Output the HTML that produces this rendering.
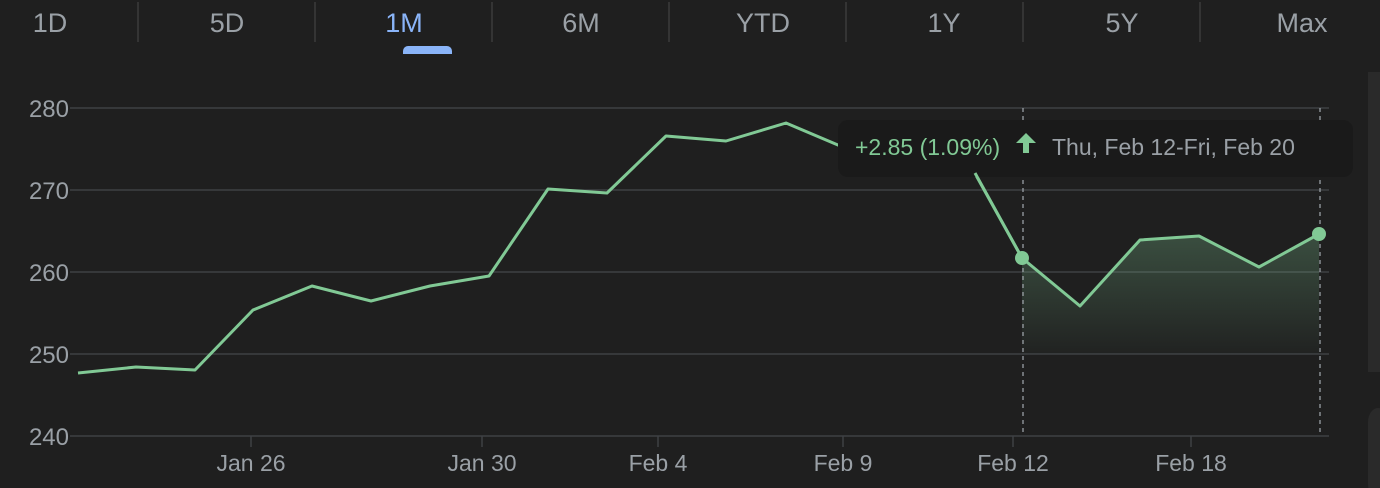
<!DOCTYPE html>
<html><head><style>
html,body{margin:0;padding:0;background:#1f1f1f;width:1380px;height:488px;overflow:hidden}
svg{display:block}
text{font-family:"Liberation Sans",Arial,sans-serif}
</style></head><body>
<svg width="1380" height="488" viewBox="0 0 1380 488">
<rect width="1380" height="488" fill="#1f1f1f"/>
<rect x="1368" y="72" width="14" height="300" fill="#2a2a2a"/>
<rect x="1368" y="408" width="20" height="90" rx="14" fill="#2a2a2a"/>
<g stroke="#3c3c3c" stroke-width="1.5">
<line x1="138" y1="2" x2="138" y2="42"/><line x1="315" y1="2" x2="315" y2="42"/>
<line x1="492" y1="2" x2="492" y2="42"/><line x1="669" y1="2" x2="669" y2="42"/>
<line x1="846" y1="2" x2="846" y2="42"/><line x1="1023" y1="2" x2="1023" y2="42"/>
<line x1="1200" y1="2" x2="1200" y2="42"/>
</g>
<g font-size="27" fill="#9aa0a6" text-anchor="middle">
<text x="50" y="32">1D</text><text x="227" y="32">5D</text>
<text x="404" y="32" fill="#8ab4f8">1M</text><text x="581" y="32">6M</text>
<text x="763" y="32">YTD</text><text x="944" y="32">1Y</text>
<text x="1122" y="32">5Y</text><text x="1302" y="32">Max</text>
</g>
<path d="M403 54 v-3 a5 5 0 0 1 5 -5 h39 a5 5 0 0 1 5 5 v3 z" fill="#8ab4f8"/>
<g stroke="#3f4044" stroke-width="1.5">
<line x1="70" y1="108" x2="1329" y2="108"/><line x1="70" y1="190" x2="1329" y2="190"/>
<line x1="70" y1="272" x2="1329" y2="272"/><line x1="70" y1="354" x2="1329" y2="354"/>
<line x1="70" y1="436" x2="1329" y2="436"/>
</g>
<g font-size="24" fill="#9aa0a6" text-anchor="end">
<text x="69" y="117">280</text><text x="69" y="199">270</text><text x="69" y="281">260</text>
<text x="69" y="363">250</text><text x="69" y="445">240</text>
</g>
<g stroke="#3f4044" stroke-width="1.5">
<line x1="251" y1="436" x2="251" y2="447"/><line x1="482" y1="436" x2="482" y2="447"/>
<line x1="658" y1="436" x2="658" y2="447"/><line x1="843" y1="436" x2="843" y2="447"/>
<line x1="1013" y1="436" x2="1013" y2="447"/><line x1="1191" y1="436" x2="1191" y2="447"/>
</g>
<g font-size="23" fill="#9aa0a6" text-anchor="middle">
<text x="251" y="471">Jan 26</text><text x="482" y="471">Jan 30</text>
<text x="658" y="471">Feb 4</text><text x="843" y="471">Feb 9</text>
<text x="1013" y="471">Feb 12</text><text x="1191" y="471">Feb 18</text>
</g>
<defs><linearGradient id="g" x1="0" y1="0" x2="0" y2="1">
<stop offset="0" stop-color="#81c995" stop-opacity="0.28"/>
<stop offset="1" stop-color="#81c995" stop-opacity="0.02"/></linearGradient></defs>
<path d="M1022 258 L1080 306 L1140 240 L1199 236 L1259 267 L1319 234 L1319 354 L1022 354 Z" fill="url(#g)"/>
<g stroke="#9aa0a6" stroke-width="1.3" stroke-dasharray="4,4">
<line x1="1023" y1="108" x2="1023" y2="436"/><line x1="1320" y1="108" x2="1320" y2="436"/>
</g>
<polyline fill="none" stroke="#81c995" stroke-width="3" stroke-linejoin="round"
points="78,373 136,367 195,370 253,310 312,286 371,301 430,286 489,276 548,189 607,193 666,136 726,141 786,123 845,148 904,160 962,150 1022,258 1080,306 1140,240 1199,236 1259,267 1319,234"/>
<circle cx="1022" cy="258" r="7" fill="#81c995"/>
<circle cx="1319" cy="234" r="7" fill="#81c995"/>
<rect x="838" y="120" width="515" height="57" rx="10" fill="#1a1a1a"/>
<polyline fill="none" stroke="#81c995" stroke-width="3" points="975,173 1022,258"/>
<text x="855" y="155" font-size="23" fill="#81c995">+2.85 (1.09%)</text>
<path d="M1016 143 l10 -10 l10 10 h-7 v10 h-6 v-10 z" fill="#81c995"/>
<text x="1052" y="155" font-size="23" fill="#9aa0a6">Thu, Feb 12-Fri, Feb 20</text>
</svg>
</body></html>
